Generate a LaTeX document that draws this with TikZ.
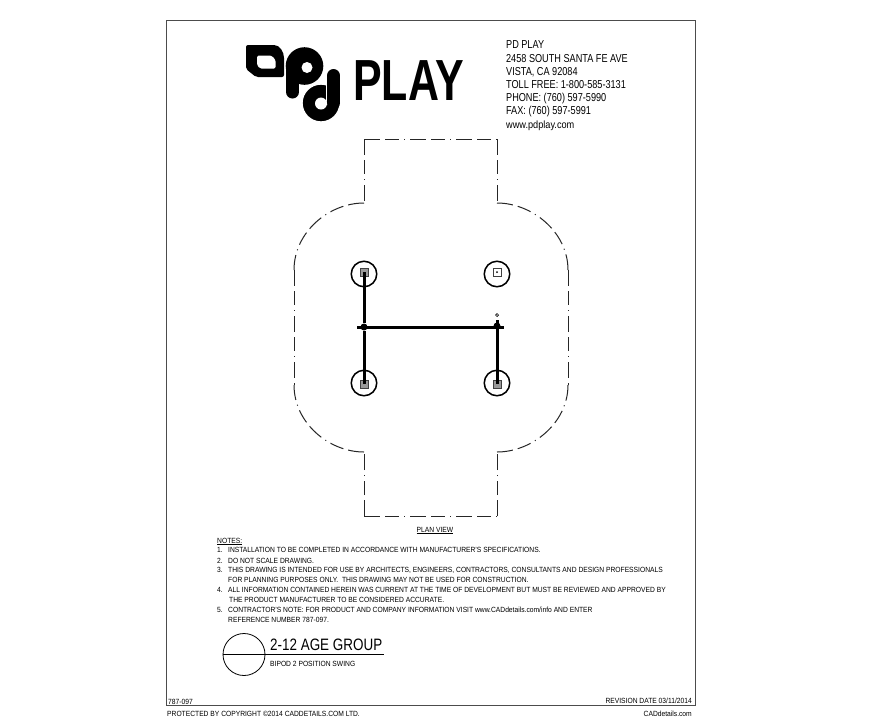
\documentclass[tikz,border=0pt]{standalone}
\usepackage{fontspec}
\setmainfont{Liberation Sans}
\tikzset{
  addr/.style={anchor=base west, inner sep=0pt, font=\fontsize{11.5}{12}\selectfont, transform shape, xscale=.795},
  note/.style={anchor=base west, inner sep=0pt, font=\fontsize{7.5}{8}\selectfont, transform shape, xscale=.895},
  site/.style={draw=black!85, line width=1pt, dash pattern=on 16pt off 5pt on 14pt off 5pt on 1pt off 5pt},
  footing/.style={circle, draw=black, line width=1.5pt, minimum size=25.5pt, inner sep=0pt},
  post/.style={rectangle, draw=black!75, fill=black!40, line width=1pt, minimum size=8pt, inner sep=0pt},
  frame/.style={rectangle, draw=black!70, line width=1pt},
  beam/.style={line width=3pt, black},
  joint/.style={circle, fill=black, minimum size=7pt, inner sep=0pt},
}
\begin{document}
\begin{tikzpicture}[x=1pt,y=-1pt]
\useasboundingbox[fill=white] (0,0) rectangle (870,721);
\draw[frame] (166,20) rectangle (695,705);
% logo
\fill[rounded corners=2pt] (246,45)--(272,45) .. controls (280,45) and (284,52) .. (284,60)--(284,77)--(256,77)--(246,69)--cycle;
\fill[white,rounded corners=1.5pt] (257,55.5)--(268,55.5) .. controls (272,55.5) and (275.5,59) .. (275.5,63)--(275.5,68.5)--(260,68.5)--(257,65)--cycle;
\fill (304.5,66) circle (18.8pt);
\draw[line width=13pt, line cap=round] (292.5,68)--(292.5,92);
\fill[white] (307,67.5) circle (5.5pt);
\fill[draw=white, line width=1.4pt] (321,103) circle (19pt);
\draw[white, line width=15.5pt, line cap=round] (333.5,75.5)--(333.5,100);
\draw[line width=13pt, line cap=round] (333.5,75.5)--(333.5,103);
\fill[white] (321,103.5) circle (6pt);
\node[anchor=base west, inner sep=0pt, font=\fontsize{58}{58}\selectfont\bfseries, transform shape, xscale=.74] (logo) at (353,100) {PLAY};
% address
\node[addr] (name) at (506,48) {PD PLAY};
\node[addr] (street) at (506,62) {2458 SOUTH SANTA FE AVE};
\node[addr] (city) at (506,75) {VISTA, CA 92084};
\node[addr] (tollfree) at (506,88) {TOLL FREE: 1-800-585-3131};
\node[addr] (phone) at (506,101) {PHONE: (760) 597-5990};
\node[addr] (fax) at (506,114) {FAX: (760) 597-5991};
\node[addr, font=\fontsize{10.5}{12}\selectfont, xscale=1.1] (web) at (506,128) {www.pdplay.com};
% site outline
\coordinate (A) at (364,139);
\coordinate (B) at (497,139);
\coordinate (C) at (497,203);
\coordinate (D) at (568,270);
\coordinate (E) at (568,385);
\coordinate (F) at (497,452);
\coordinate (G) at (497,516);
\coordinate (H) at (364,516);
\coordinate (I) at (364,452);
\coordinate (J) at (294,385);
\coordinate (K) at (294,270);
\coordinate (L) at (364,203);
\draw[site] (A)--(B);
\draw[site] (H)--(G);
\draw[site] (A)--(L);
\draw[site] (B)--(C);
\draw[site] (H)--(I);
\draw[site] (G)--(F);
\draw[site] (K)--(J);
\draw[site] (D)--(E);
\draw[site] (L) .. controls (329,203) and (294,232) .. (K);
\draw[site] (C) .. controls (532,203) and (568,232) .. (D);
\draw[site] (I) .. controls (329,452) and (294,423) .. (J);
\draw[site] (F) .. controls (532,452) and (568,423) .. (E);
% swing
\node[footing] (f1) at (364,274) {};
\node[footing] (f2) at (497,274) {};
\node[footing] (f3) at (364,383) {};
\node[footing] (f4) at (497,383) {};
\node[post] (p1) at (364,272) {};
\node[post, fill=white] (p2) at (497,272) {};
\node[post] (p3) at (364,384) {};
\node[post] (p4) at (497,384) {};
\fill (497,272) circle (1pt);
\node[joint] (j1) at (364,327) {};
\node[joint] (j2) at (497,326) {};
\coordinate (b1) at (357,327);
\coordinate (b2) at (504,327);
\coordinate (top) at (497,320);
\draw[beam] (b1)--(b2);
\draw[beam] (p1.center)--(j1)--(p3.center);
\draw[beam] (top)--(p4.center);
\node[circle, draw=black, line width=.7pt, minimum size=3pt, inner sep=0pt] (pin) at (497,315) {};
% notes
\node[note, anchor=base] (plan) at (435,532) {\underline{PLAN VIEW}};
\node[note] (notes) at (217,543) {\underline{NOTES:}};
\node[note] (n1) at (217,552) {1.};
\node[note] (t1) at (228,552) {INSTALLATION TO BE COMPLETED IN ACCORDANCE WITH MANUFACTURER'S SPECIFICATIONS.};
\node[note] (n2) at (217,563) {2.};
\node[note] (t2) at (228,563) {DO NOT SCALE DRAWING.};
\node[note] (n3) at (217,572) {3.};
\node[note] (t3) at (228,572) {THIS DRAWING IS INTENDED FOR USE BY ARCHITECTS, ENGINEERS, CONTRACTORS, CONSULTANTS AND DESIGN PROFESSIONALS};
\node[note] (t3b) at (228,582) {FOR PLANNING PURPOSES ONLY.\ \ THIS DRAWING MAY NOT BE USED FOR CONSTRUCTION.};
\node[note] (n4) at (217,592) {4.};
\node[note] (t4) at (228,592) {ALL INFORMATION CONTAINED HEREIN WAS CURRENT AT THE TIME OF DEVELOPMENT BUT MUST BE REVIEWED AND APPROVED BY};
\node[note] (t4b) at (229,602) {THE PRODUCT MANUFACTURER TO BE CONSIDERED ACCURATE.};
\node[note] (n5) at (217,612) {5.};
\node[note] (t5) at (228,612) {CONTRACTOR'S NOTE: FOR PRODUCT AND COMPANY INFORMATION VISIT www.CADdetails.com/info AND ENTER};
\node[note] (t5b) at (228,622) {REFERENCE NUMBER 787-097.};
% title
\node[circle, draw=black, line width=.8pt, minimum size=42pt, inner sep=0pt] (symbol) at (244,654.5) {};
\coordinate (rule) at (384,654.5);
\draw[line width=.8pt] (symbol.west)--(rule);
\node[addr, font=\fontsize{16.5}{18}\selectfont, xscale=1.025] (group) at (270,650) {2-12 AGE GROUP};
\node[note] (product) at (270,666) {BIPOD 2 POSITION SWING};
% footer
\node[note] (ref) at (168,704) {787-097};
\node[note, anchor=base east] (rev) at (692,703) {REVISION DATE 03/11/2014};
\node[note] (copy) at (167,716) {PROTECTED BY COPYRIGHT ©2014 CADDETAILS.COM LTD.};
\node[note, anchor=base east] (web2) at (692,716) {CADdetails.com};
\end{tikzpicture}
\end{document}
